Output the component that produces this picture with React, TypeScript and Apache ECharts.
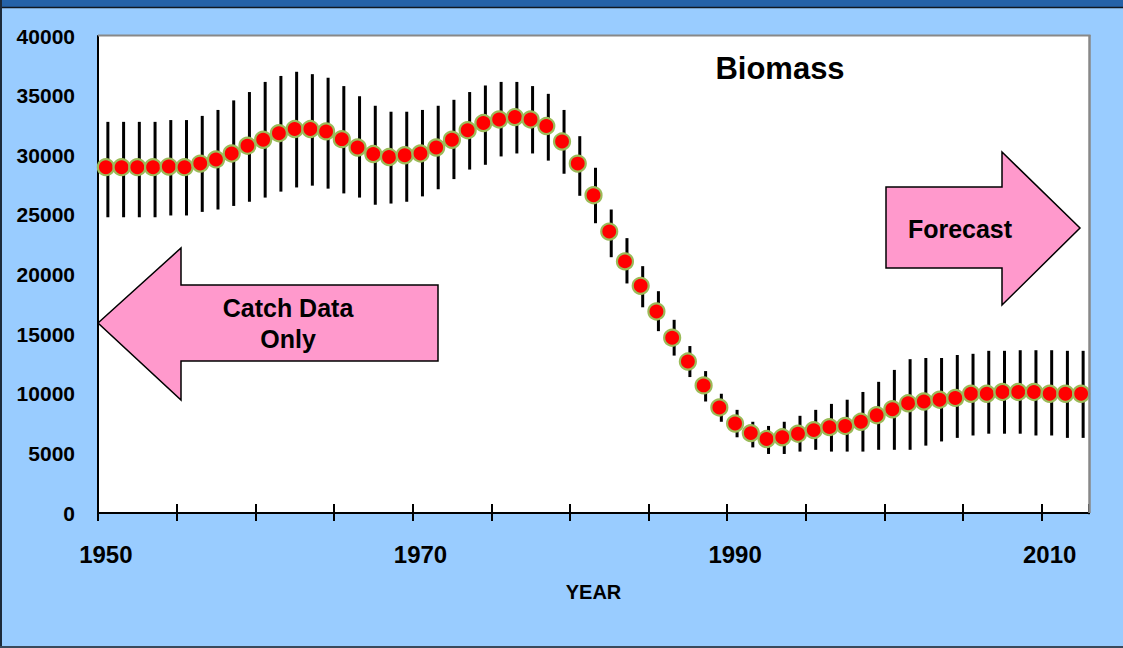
import React, { useEffect, useRef } from "react";
import * as echarts from "echarts";

// Years of the stock assessment (one point per year)
const years = [
  "1950", "1951", "1952", "1953", "1954", "1955", "1956", "1957", "1958", "1959",
  "1960", "1961", "1962", "1963", "1964", "1965", "1966", "1967", "1968", "1969",
  "1970", "1971", "1972", "1973", "1974", "1975", "1976", "1977", "1978", "1979",
  "1980", "1981", "1982", "1983", "1984", "1985", "1986", "1987", "1988", "1989",
  "1990", "1991", "1992", "1993", "1994", "1995", "1996", "1997", "1998", "1999",
  "2000", "2001", "2002", "2003", "2004", "2005", "2006", "2007", "2008", "2009",
  "2010", "2011", "2012",
];

// Estimated biomass
const biomass = [
  29000, 29000, 29000, 29000, 29050, 29000, 29300, 29650, 30150, 30800,
  31300, 31850, 32200, 32200, 32000, 31350, 30650, 30100, 29850, 30000,
  30150, 30650, 31300, 32100, 32700, 33000, 33200, 33000, 32450, 31150,
  29300, 26650, 23600, 21100, 19050, 16900, 14700, 12700, 10700, 8850,
  7500, 6700, 6200, 6350, 6650, 6950, 7200, 7300, 7650, 8200,
  8700, 9200, 9350, 9500, 9650, 10000, 10000, 10150, 10150, 10150,
  10000, 10000, 10000,
];

// Upper bound of the uncertainty interval
const upper = [
  32800, 32800, 32800, 32800, 32950, 32950, 33300, 33800, 34600, 35300,
  36150, 36650, 37000, 36800, 36500, 35800, 34950, 34150, 33650, 33650,
  33800, 34150, 34650, 35300, 35850, 36150, 36150, 35800, 35150, 33800,
  31600, 28950, 25450, 23050, 20700, 18600, 16200, 14000, 11900, 10000,
  8650, 7650, 7300, 7650, 8150, 8650, 9150, 9500, 10150, 11000,
  12000, 12900, 13000, 13000, 13250, 13350, 13600, 13600, 13650, 13650,
  13650, 13600, 13600,
];

// Lower bound of the uncertainty interval
const lower = [
  24800, 24800, 24800, 24800, 24950, 24950, 25250, 25450, 25750, 26100,
  26450, 26950, 27300, 27450, 27200, 26800, 26450, 25850, 25950, 26100,
  26550, 27150, 28000, 28800, 29200, 29900, 30150, 30150, 29550, 28450,
  26600, 24300, 21450, 19250, 17250, 15250, 13200, 11400, 9350, 7650,
  6350, 5500, 4950, 4950, 5150, 5300, 5150, 5150, 5150, 5300,
  5300, 5300, 5650, 6000, 6300, 6500, 6650, 6650, 6650, 6500,
  6500, 6300, 6300,
];

const FONT = "'Liberation Sans', Arial, Helvetica, sans-serif";

export default function App() {
  const ref = useRef<HTMLDivElement>(null);

  useEffect(() => {
    if (!ref.current) return;
    const chart = echarts.init(ref.current, null, { renderer: "svg" });

    const W = 1123;
    const gridLeft = 98;
    const gridTop = 36;
    const gridRight = 34;
    const gridBottom = 135;
    const plotRight = W - gridRight;
    const plotBottom = 648 - gridBottom;

    const boldText = (
      text: string,
      x: number,
      y: number,
      size: number,
      lineHeight?: number
    ) => ({
      type: "text",
      x,
      y,
      z: 20,
      style: {
        text,
        fontSize: size,
        fontWeight: "bold",
        fontFamily: FONT,
        fill: "#000",
        align: "center",
        verticalAlign: "middle",
        lineHeight: lineHeight ?? size,
      },
    });

    chart.setOption({
      animation: false,
      backgroundColor: "#99CCFF",
      textStyle: { fontFamily: FONT },
      grid: {
        left: gridLeft,
        right: gridRight,
        top: gridTop,
        bottom: gridBottom,
        show: true,
        backgroundColor: "#FFFFFF",
        borderWidth: 0,
      },
      xAxis: [
        {
          type: "category",
          data: years,
          position: "bottom",
          boundaryGap: true,
          axisLine: { show: true, lineStyle: { color: "#000", width: 2 } },
          axisTick: {
            show: true,
            interval: (i: number) => i % 5 === 0,
            length: 8,
            lineStyle: { color: "#000", width: 2 },
          },
          axisLabel: {
            interval: (i: number) => i % 20 === 0,
            margin: 29,
            fontSize: 24,
            fontWeight: "bold",
            color: "#000",
            fontFamily: FONT,
          },
          splitLine: { show: false },
          name: "YEAR",
          nameLocation: "middle",
          nameGap: 69,
          nameTextStyle: {
            fontSize: 20,
            fontWeight: "bold",
            color: "#000",
            fontFamily: FONT,
          },
        },
        {
          // inner half of the crossing tick marks
          type: "category",
          data: years,
          position: "bottom",
          boundaryGap: true,
          axisLine: { show: false },
          axisTick: {
            show: true,
            inside: true,
            interval: (i: number) => i % 5 === 0,
            length: 9,
            lineStyle: { color: "#000", width: 2 },
          },
          axisLabel: { show: false },
          splitLine: { show: false },
        },
      ],
      yAxis: {
        type: "value",
        min: 0,
        max: 40000,
        interval: 5000,
        axisLine: { show: true, lineStyle: { color: "#000", width: 2 } },
        axisTick: { show: false },
        splitLine: { show: false },
        axisLabel: {
          margin: 23,
          fontSize: 21,
          fontWeight: "bold",
          color: "#000",
          fontFamily: FONT,
          formatter: (v: number) => String(v),
        },
      },
      series: [
        {
          name: "Interval",
          type: "custom",
          xAxisIndex: 0,
          yAxisIndex: 0,
          z: 2,
          data: years.map((_, i) => [i, lower[i], upper[i]]),
          encode: { x: 0, y: [1, 2] },
          renderItem: (_params: any, api: any) => {
            const lo = api.coord([api.value(0), api.value(1)]);
            const hi = api.coord([api.value(0), api.value(2)]);
            return {
              type: "line",
              shape: { x1: lo[0] + 2, y1: lo[1], x2: hi[0] + 2, y2: hi[1] },
              style: { stroke: "#000", lineWidth: 3 },
            };
          },
        },
        {
          name: "Biomass",
          type: "scatter",
          xAxisIndex: 0,
          yAxisIndex: 0,
          z: 3,
          data: biomass,
          symbol: "circle",
          symbolSize: 16,
          itemStyle: {
            color: "#FF0000",
            borderColor: "#9BBB59",
            borderWidth: 2.2,
            opacity: 1,
          },
        },
      ],
      graphic: [
        // frame around the slide
        { type: "rect", z: 15, shape: { x: 0, y: 0, width: W, height: 7 }, style: { fill: "#2462A8" } },
        { type: "line", z: 15, shape: { x1: 0, y1: 7.5, x2: W, y2: 7.5 }, style: { stroke: "#101820", lineWidth: 1.5 } },
        { type: "rect", z: 15, shape: { x: 0, y: 0, width: 2, height: 648 }, style: { fill: "#1C2A3A" } },
        { type: "rect", z: 15, shape: { x: 0, y: 646, width: W, height: 2 }, style: { fill: "#3A4A5C" } },
        // plot border (top and right)
        { type: "line", z: 15, shape: { x1: gridLeft, y1: gridTop - 0.5, x2: plotRight + 1.5, y2: gridTop - 0.5 }, style: { stroke: "#888888", lineWidth: 2 } },
        { type: "line", z: 15, shape: { x1: plotRight + 0.5, y1: gridTop - 1, x2: plotRight + 0.5, y2: plotBottom }, style: { stroke: "#888888", lineWidth: 2.5 } },
        { type: "rect", z: 15, shape: { x: plotRight - 1.5, y: plotBottom + 1.2, width: 5, height: 9 }, style: { fill: "#99CCFF" } },
        // title
        boldText("Biomass", 780, 68, 31),
        // "Catch Data Only" arrow pointing left
        {
          type: "polygon",
          z: 18,
          shape: {
            points: [
              [98, 323], [181, 248], [181, 285], [438, 285],
              [438, 361], [181, 361], [181, 400],
            ],
          },
          style: { fill: "#FF99CC", stroke: "#000", lineWidth: 1.5 },
        },
        boldText("Catch Data\nOnly", 288, 323, 25, 31),
        // "Forecast" arrow pointing right
        {
          type: "polygon",
          z: 18,
          shape: {
            points: [
              [886, 187], [1002, 187], [1002, 152], [1080, 228],
              [1002, 305], [1002, 268], [886, 268],
            ],
          },
          style: { fill: "#FF99CC", stroke: "#000", lineWidth: 1.5 },
        },
        boldText("Forecast", 960, 229, 25),
      ],
    });

    return () => chart.dispose();
  }, []);

  return (
    <div
      ref={ref}
      style={{ position: "fixed", left: 0, top: 0, width: 1123, height: 648 }}
    />
  );
}
